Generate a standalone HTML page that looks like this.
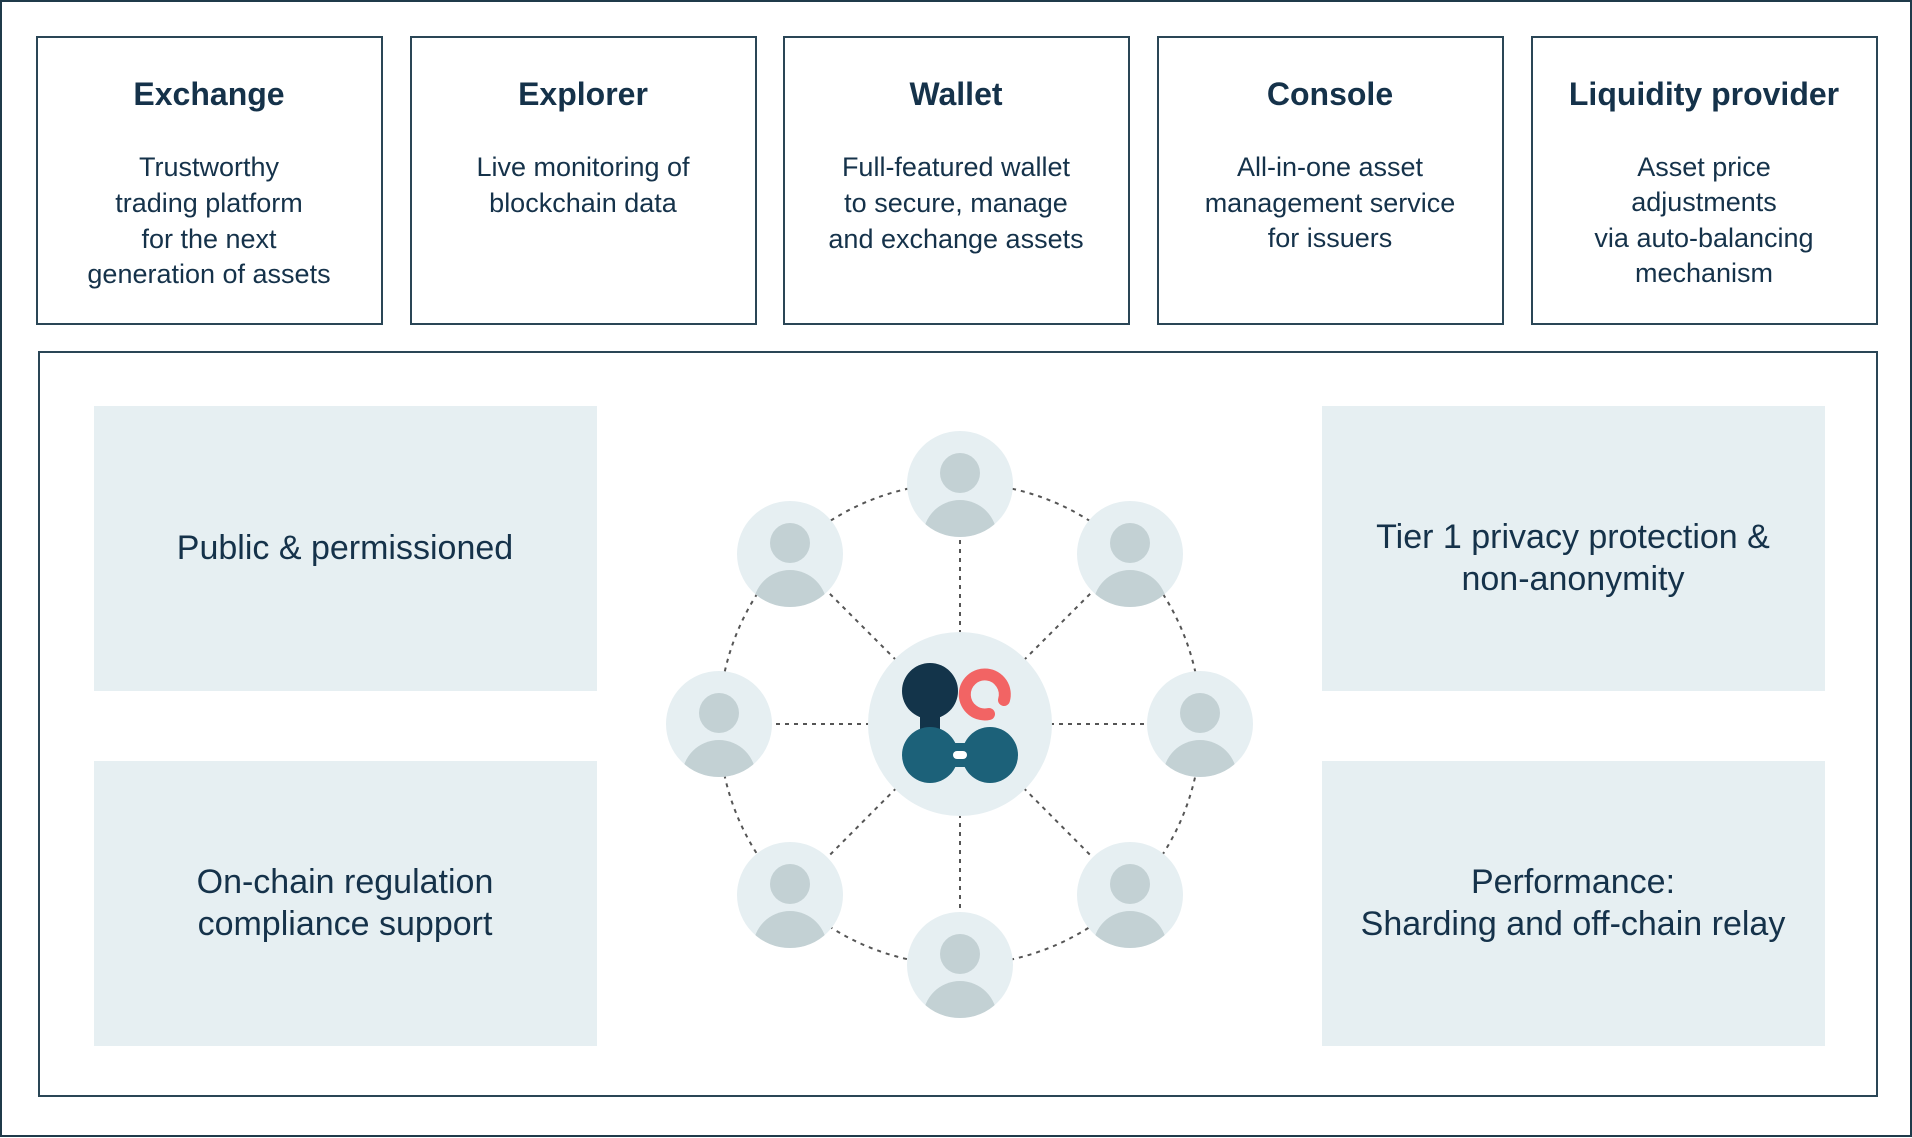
<!DOCTYPE html>
<html><head><meta charset="utf-8"><style>
html,body{margin:0;padding:0;background:#fff}
svg{display:block}
text{font-family:"Liberation Sans",sans-serif;fill:#15324a}
</style></head><body>
<svg width="1912" height="1138" viewBox="0 0 1912 1138" xmlns="http://www.w3.org/2000/svg">
<defs>
<clipPath id="nc"><circle cx="0" cy="0" r="53"/></clipPath>
<g id="node">
<circle cx="0" cy="0" r="53" fill="#e6eff2"/>
<g clip-path="url(#nc)"><circle cx="0" cy="-11" r="20" fill="#c3d1d4"/><circle cx="0" cy="53" r="37" fill="#c3d1d4"/></g>
</g>
</defs>
<rect x="1" y="1" width="1910" height="1135" fill="none" stroke="#1f3a4a" stroke-width="2"/>
<g fill="none" stroke="#2a4656" stroke-width="2">
<rect x="37" y="37" width="345" height="287"/>
<rect x="411" y="37" width="345" height="287"/>
<rect x="784" y="37" width="345" height="287"/>
<rect x="1158" y="37" width="345" height="287"/>
<rect x="1532" y="37" width="345" height="287"/>
<rect x="39" y="352" width="1838" height="744"/>
</g>
<g text-anchor="middle" font-size="32" font-weight="bold">
<text x="209" y="105">Exchange</text>
<text x="583" y="105">Explorer</text>
<text x="956" y="105">Wallet</text>
<text x="1330" y="105">Console</text>
<text x="1704" y="105">Liquidity provider</text>
</g>
<g text-anchor="middle" font-size="27">
<text x="209" y="176">Trustworthy</text><text x="209" y="212">trading platform</text><text x="209" y="248">for the next</text><text x="209" y="283">generation of assets</text>
<text x="583" y="176">Live monitoring of</text><text x="583" y="212">blockchain data</text>
<text x="956" y="176">Full-featured wallet</text><text x="956" y="212">to secure, manage</text><text x="956" y="248">and exchange assets</text>
<text x="1330" y="176">All-in-one asset</text><text x="1330" y="212">management service</text><text x="1330" y="247">for issuers</text>
<text x="1704" y="176">Asset price</text><text x="1704" y="211">adjustments</text><text x="1704" y="247">via auto-balancing</text><text x="1704" y="282">mechanism</text>
</g>
<g fill="#e6eff2">
<rect x="94" y="406" width="503" height="285"/>
<rect x="94" y="761" width="503" height="285"/>
<rect x="1322" y="406" width="503" height="285"/>
<rect x="1322" y="761" width="503" height="285"/>
</g>
<g text-anchor="middle" font-size="34">
<text x="345" y="559">Public &amp; permissioned</text>
<text x="345" y="893">On-chain regulation</text><text x="345" y="935">compliance support</text>
<text x="1573" y="548">Tier 1 privacy protection &amp;</text><text x="1573" y="590">non-anonymity</text>
<text x="1573" y="893">Performance:</text><text x="1573" y="935">Sharding and off-chain relay</text>
</g>
<g stroke="#555" stroke-width="2" stroke-dasharray="4 5" fill="none">
<circle cx="960" cy="724" r="241"/>
<line x1="960" y1="724" x2="960" y2="484"/>
<line x1="960" y1="724" x2="960" y2="965"/>
<line x1="960" y1="724" x2="719" y2="724"/>
<line x1="960" y1="724" x2="1200" y2="724"/>
<line x1="960" y1="724" x2="790" y2="554"/>
<line x1="960" y1="724" x2="1130" y2="554"/>
<line x1="960" y1="724" x2="790" y2="895"/>
<line x1="960" y1="724" x2="1130" y2="895"/>
</g>
<use href="#node" x="960" y="484"/>
<use href="#node" x="790" y="554"/>
<use href="#node" x="1130" y="554"/>
<use href="#node" x="719" y="724"/>
<use href="#node" x="1200" y="724"/>
<use href="#node" x="790" y="895"/>
<use href="#node" x="1130" y="895"/>
<use href="#node" x="960" y="965"/>
<circle cx="960" cy="724" r="92" fill="#e6eff2"/>
<circle cx="930" cy="691" r="28" fill="#13344a"/>
<rect x="920" y="700" width="20" height="40" fill="#13344a"/>
<circle cx="930" cy="755" r="28" fill="#1c6179"/>
<circle cx="990" cy="755" r="28" fill="#1c6179"/>
<rect x="930" y="743" width="60" height="24" fill="#1c6179"/>
<rect x="953" y="751" width="14" height="8" rx="4" fill="#fff"/>
<path d="M1004 700 A20 20 0 1 0 989 714" fill="none" stroke="#f26464" stroke-width="12" stroke-linecap="round"/>
</svg>
</body></html>
